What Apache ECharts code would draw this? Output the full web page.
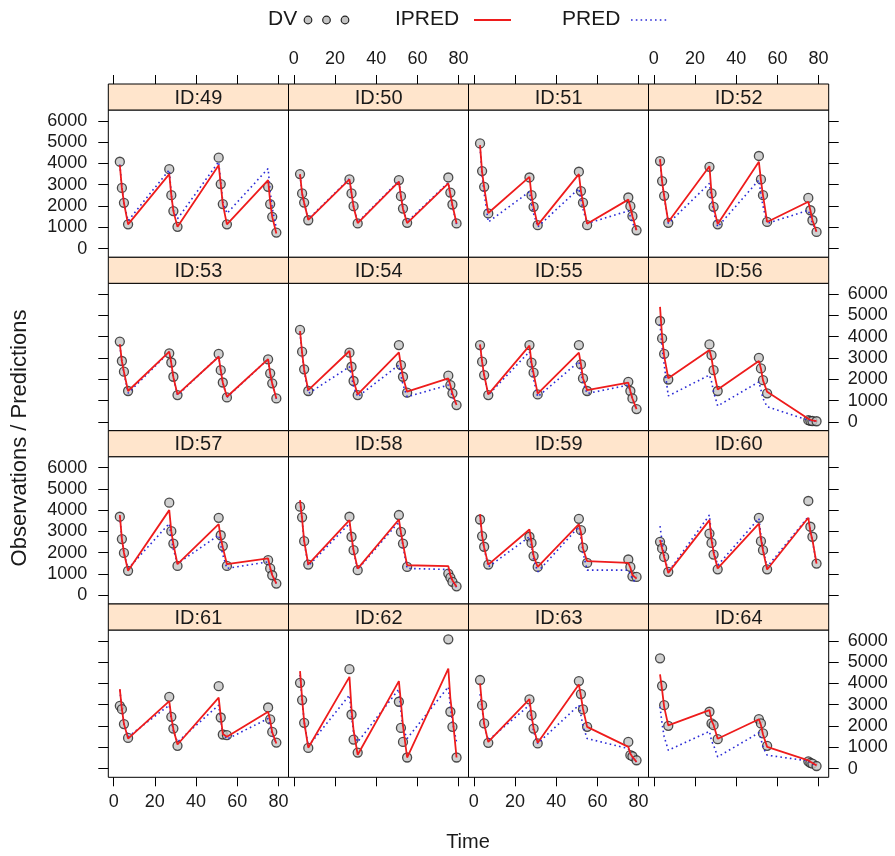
<!DOCTYPE html>
<html>
<head>
<meta charset="utf-8">
<script src="https://cdn.jsdelivr.net/npm/echarts@6/dist/echarts.min.js"></script>
<style>
  html, body { margin: 0; padding: 0; background: #ffffff; }
  #chart { width: 895px; height: 856px; }
</style>
</head>
<body>
<div id="chart"></div>
<script>
// Sampling times (h): four samples after each of four doses
const times = [3, 4, 5, 7, 27, 28, 29, 31, 51, 52, 53, 55, 75, 76, 77, 79];
const timeTicks = [0, 20, 40, 60, 80];
const concTicks = [0, 1000, 2000, 3000, 4000, 5000, 6000];

// Observed concentrations (DV), individual (IPRED) and population (PRED) predictions
const dv49    = [4080, 2850, 2150, 1140, 3730, 2510, 1760, 1020, 4270, 3030, 2090, 1140, 2900, 2090, 1490, 750];
const ipred49 = [3920, 2850, 2150, 1140, 3500, 2510, 1760, 1020, 3920, 3030, 2090, 1140, 3220, 2200, 1490, 710];
const pred49  = [3950, 2900, 2150, 1300, 3700, 2550, 1800, 1400, 4080, 3100, 2200, 1650, 3760, 2700, 1900, 950];

const dv50    = [3500, 2590, 2160, 1330, 3250, 2590, 1990, 1180, 3220, 2460, 1880, 1210, 3340, 2630, 2070, 1180];
const ipred50 = [3500, 2600, 2150, 1350, 3250, 2600, 1950, 1200, 3140, 2450, 1850, 1200, 3060, 2550, 2050, 1180];
const pred50  = [3450, 2580, 2120, 1380, 3280, 2580, 1950, 1230, 3180, 2470, 1880, 1250, 3100, 2500, 1980, 1150];

const dv51    = [4940, 3640, 2900, 1650, 3340, 2510, 1960, 1100, 3610, 2700, 2160, 1100, 2400, 1990, 1520, 860];
const ipred51 = [4860, 3600, 2880, 1670, 3370, 2500, 1950, 1100, 3500, 2700, 2150, 1170, 2300, 1950, 1520, 860];
const pred51  = [4780, 3400, 2600, 1250, 2670, 2100, 1650, 1020, 2820, 2300, 1850, 1180, 1770, 1500, 1200, 860];

const dv52    = [4110, 3170, 2480, 1210, 3840, 2590, 1960, 1140, 4350, 3250, 2510, 1250, 2380, 1800, 1330, 780];
const ipred52 = [4200, 3150, 2480, 1250, 3870, 2600, 1960, 1150, 4080, 3200, 2500, 1250, 2200, 1800, 1330, 790];
const pred52  = [4150, 3100, 2450, 1180, 3060, 2300, 1750, 1020, 3220, 2550, 2000, 1180, 1800, 1500, 1200, 780];

const dv53    = [3770, 2860, 2360, 1450, 3220, 2790, 2120, 1260, 3190, 2430, 1850, 1150, 2940, 2280, 1810, 1100];
const ipred53 = [3650, 2850, 2350, 1450, 3300, 2750, 2100, 1290, 3060, 2420, 1850, 1180, 2950, 2280, 1800, 1100];
const pred53  = [3600, 2800, 2300, 1350, 3280, 2700, 2080, 1250, 3080, 2400, 1830, 1150, 2950, 2250, 1780, 1080];

const dv54    = [4320, 3300, 2470, 1450, 3250, 2590, 1920, 1260, 3610, 2670, 2120, 1370, 2170, 1730, 1340, 790];
const ipred54 = [4270, 3250, 2450, 1490, 3330, 2600, 1920, 1290, 3260, 2650, 2100, 1420, 2040, 1720, 1330, 790];
const pred54  = [4200, 3200, 2400, 1330, 2590, 2150, 1650, 1180, 2670, 2200, 1750, 1180, 1730, 1500, 1200, 780];

const dv55    = [3610, 2830, 2200, 1260, 3610, 2780, 2310, 1290, 3610, 2700, 2040, 1450, 1880, 1450, 1100, 600];
const ipred55 = [3640, 2830, 2200, 1290, 3580, 2780, 2280, 1330, 3250, 2700, 2050, 1490, 1840, 1440, 1100, 600];
const pred55  = [3600, 2800, 2180, 1260, 3300, 2600, 2000, 1180, 2830, 2350, 1850, 1330, 1730, 1400, 1080, 590];

const dv56    = [4740, 3920, 3190, 1990, 3640, 3140, 2430, 1450, 3010, 2510, 1960, 1340, 80, 50, 40, 30];
const ipred56 = [5400, 4000, 3100, 2050, 3380, 3000, 2400, 1520, 2860, 2500, 1950, 1410, 150, 100, 70, 40];
const pred56  = [4600, 3500, 2700, 1220, 2200, 1900, 1400, 750, 1880, 1500, 1100, 710, 80, 60, 50, 30];

const dv57    = [3690, 2640, 1990, 1150, 4350, 3010, 2430, 1380, 3640, 2820, 2310, 1380, 1650, 1260, 940, 550];
const ipred57 = [3770, 2650, 2000, 1150, 4000, 3000, 2400, 1460, 3340, 2700, 2250, 1460, 1730, 1300, 950, 550];
const pred57  = [3700, 2620, 1980, 1250, 3370, 2700, 2150, 1490, 2820, 2350, 1900, 1260, 1570, 1250, 930, 550];

const dv58    = [4160, 3660, 2540, 1440, 3690, 2750, 2120, 1180, 3770, 2980, 2430, 1330, 1020, 830, 630, 420];
const ipred58 = [4470, 3600, 2550, 1450, 3530, 2750, 2100, 1250, 3560, 2950, 2400, 1410, 1370, 950, 700, 400];
const pred58  = [4400, 3550, 2500, 1380, 3370, 2700, 2050, 1210, 3450, 2850, 2300, 1260, 1210, 900, 650, 380];

const dv59    = [3560, 2780, 2280, 1440, 2750, 2460, 1840, 1330, 3590, 3060, 2240, 1520, 1680, 1330, 890, 860];
const ipred59 = [3810, 2800, 2250, 1440, 3090, 2500, 1850, 1330, 3340, 2950, 2200, 1600, 1520, 1300, 950, 780];
const pred59  = [3750, 2750, 2200, 1330, 2750, 2300, 1700, 1100, 3220, 2700, 2000, 1180, 1180, 1000, 750, 550];

const dv60    = [2510, 2200, 1800, 1100, 2900, 2460, 1910, 1220, 3640, 2540, 2120, 1220, 4430, 3220, 2750, 1490];
const ipred60 = [2600, 2200, 1800, 1050, 3530, 2600, 2000, 1260, 3370, 2650, 2100, 1210, 3640, 3000, 2600, 1490];
const pred60  = [3250, 2500, 1900, 1100, 3770, 2800, 2100, 1410, 3610, 2800, 2150, 1330, 3690, 3000, 2550, 1490];

const dv61    = [2950, 2790, 2090, 1440, 3370, 2430, 1880, 1070, 3870, 2400, 1600, 1570, 2870, 2310, 1720, 1220];
const ipred61 = [3730, 2800, 2100, 1410, 3170, 2400, 1850, 1130, 3330, 2450, 1620, 1490, 2670, 2250, 1700, 1180];
const pred61  = [3700, 2780, 2080, 1490, 2980, 2300, 1750, 1250, 2980, 2250, 1650, 1380, 2350, 2000, 1600, 1180];

const dv62    = [4030, 3220, 2150, 970, 4670, 2540, 1360, 750, 3140, 1910, 1250, 520, 6070, 2670, 1960, 520];
const ipred62 = [4580, 3300, 2200, 980, 4310, 2800, 1800, 650, 4110, 3100, 2000, 520, 4700, 3300, 2500, 520];
const pred62  = [4400, 3200, 2200, 1050, 3450, 2500, 1700, 1250, 3730, 2700, 1900, 1410, 3840, 2900, 2200, 1250];

const dv63    = [4160, 2980, 2120, 1210, 3250, 2510, 1880, 1180, 4110, 3500, 2780, 1960, 1250, 630, 580, 390];
const ipred63 = [4000, 2950, 2100, 1250, 3260, 2500, 1900, 1210, 3950, 3400, 2800, 1960, 1020, 700, 550, 310];
const pred63  = [3500, 2800, 2050, 1330, 2980, 2300, 1750, 1180, 2980, 2500, 2000, 1410, 940, 700, 500, 310];

const dv64    = [5180, 3890, 2980, 2010, 2670, 2120, 2040, 1380, 2320, 2120, 1650, 1070, 340, 270, 230, 120];
const ipred64 = [4420, 3700, 2900, 2030, 2750, 2250, 2050, 1400, 2320, 2050, 1600, 1020, 390, 320, 260, 150];
const pred64  = [2900, 2100, 1500, 860, 1750, 1300, 1100, 550, 1680, 1400, 1000, 630, 360, 280, 220, 150];

// Panels in reading order (left to right, top to bottom)
const panels = [
  [49, dv49, ipred49, pred49], [50, dv50, ipred50, pred50], [51, dv51, ipred51, pred51], [52, dv52, ipred52, pred52],
  [53, dv53, ipred53, pred53], [54, dv54, ipred54, pred54], [55, dv55, ipred55, pred55], [56, dv56, ipred56, pred56],
  [57, dv57, ipred57, pred57], [58, dv58, ipred58, pred58], [59, dv59, ipred59, pred59], [60, dv60, ipred60, pred60],
  [61, dv61, ipred61, pred61], [62, dv62, ipred62, pred62], [63, dv63, ipred63, pred63], [64, dv64, ipred64, pred64]
];

// Layout of the 4 x 4 trellis
const colLeft = [108.3, 288.5, 468.5, 648.5];
const panelW = 180.2;
const stripTop = [84, 257.3, 430.7, 604];
const stripH = 26;
const panelH = 147.3;
const xRange = [-2.6, 84.9];
const yRange = [-410, 6510];

const FONT = '"Liberation Sans", Arial, Helvetica, sans-serif';
const TEXT = '#1a1a1a';
const RED = '#ee1c1c';
const BLUE = '#2b2bd6';
const DOT_FILL = '#c4c4c4';
const DOT_EDGE = '#222222';

const pairs = arr => times.map((t, i) => [t, arr[i]]);
const plain = v => String(v);

const grids = [], xAxes = [], yAxes = [], series = [], graphics = [];

panels.forEach(([id, dv, ipred, pred], k) => {
  const r = Math.floor(k / 4), c = k % 4;
  const top = stripTop[r] + stripH;
  grids.push({
    left: colLeft[c], top: top, width: panelW, height: panelH,
    show: true, borderColor: '#000', borderWidth: 1, backgroundColor: '#fff',
    containLabel: false, outerBoundsMode: 'none'
  });

  const isTop = r === 0, isBottom = r === 3;
  const xLabelled = (isTop && c % 2 === 1) || (isBottom && c % 2 === 0);
  xAxes.push({
    type: 'value', gridIndex: k, min: xRange[0], max: xRange[1],
    position: isTop ? 'top' : 'bottom',
    offset: isTop ? stripH : 0,
    axisLine: { show: false, onZero: false }, splitLine: { show: false },
    axisTick: { show: isTop || isBottom, inside: false, length: 9, customValues: timeTicks,
                lineStyle: { color: '#000', width: 1 } },
    axisLabel: { show: xLabelled, customValues: timeTicks, margin: 16, fontSize: 18,
                 fontFamily: FONT, color: TEXT, formatter: plain }
  });

  const isLeft = c === 0, isRight = c === 3;
  const yLabelled = (isLeft && r % 2 === 0) || (isRight && r % 2 === 1);
  yAxes.push({
    type: 'value', gridIndex: k, min: yRange[0], max: yRange[1],
    position: isRight ? 'right' : 'left',
    axisLine: { show: false, onZero: false }, splitLine: { show: false },
    axisTick: { show: isLeft || isRight, inside: false, length: 10, customValues: concTicks,
                lineStyle: { color: '#000', width: 1 } },
    axisLabel: { show: yLabelled, customValues: concTicks, margin: isLeft ? 21 : 19, fontSize: 18,
                 fontFamily: FONT, color: TEXT, formatter: plain }
  });

  series.push({
    name: 'DV', type: 'scatter', xAxisIndex: k, yAxisIndex: k, data: pairs(dv),
    symbol: 'circle', symbolSize: 9, z: 2,
    itemStyle: { color: DOT_FILL, borderColor: DOT_EDGE, borderWidth: 1.3 }
  });
  series.push({
    name: 'PRED', type: 'line', xAxisIndex: k, yAxisIndex: k, data: pairs(pred),
    showSymbol: false, symbol: 'none', z: 3,
    lineStyle: { color: BLUE, width: 1.6, type: [1.6, 3.2] }
  });
  series.push({
    name: 'IPRED', type: 'line', xAxisIndex: k, yAxisIndex: k, data: pairs(ipred),
    showSymbol: false, symbol: 'none', z: 4,
    lineStyle: { color: RED, width: 1.8 }
  });

  // strip with subject label
  graphics.push({
    type: 'rect', z: 10,
    shape: { x: colLeft[c], y: stripTop[r], width: panelW, height: stripH },
    style: { fill: '#ffe5cc', stroke: '#000', lineWidth: 1 }
  });
  graphics.push({
    type: 'text', z: 11,
    x: colLeft[c] + panelW / 2, y: stripTop[r] + stripH / 2 + 1,
    style: { text: 'ID:' + id, font: '20px ' + FONT, fill: TEXT, align: 'center', verticalAlign: 'middle' }
  });
});

// Key above the panels
const keyY = 19;
graphics.push(
  { type: 'text', x: 268, y: keyY, style: { text: 'DV', font: '21px ' + FONT, fill: TEXT, verticalAlign: 'middle' } },
  { type: 'circle', shape: { cx: 308, cy: keyY + 1, r: 3.8 }, style: { fill: DOT_FILL, stroke: DOT_EDGE, lineWidth: 1.2 } },
  { type: 'circle', shape: { cx: 326.5, cy: keyY + 1, r: 3.8 }, style: { fill: DOT_FILL, stroke: DOT_EDGE, lineWidth: 1.2 } },
  { type: 'circle', shape: { cx: 345, cy: keyY + 1, r: 3.8 }, style: { fill: DOT_FILL, stroke: DOT_EDGE, lineWidth: 1.2 } },
  { type: 'text', x: 395, y: keyY, style: { text: 'IPRED', font: '21px ' + FONT, fill: TEXT, verticalAlign: 'middle' } },
  { type: 'line', shape: { x1: 474, y1: keyY + 1, x2: 511, y2: keyY + 1 }, style: { stroke: RED, lineWidth: 2 } },
  { type: 'text', x: 562, y: keyY, style: { text: 'PRED', font: '21px ' + FONT, fill: TEXT, verticalAlign: 'middle' } },
  { type: 'line', shape: { x1: 631, y1: keyY + 1, x2: 668, y2: keyY + 1 },
    style: { stroke: BLUE, lineWidth: 1.6, lineDash: [1.6, 3.2] } },
  // axis titles
  { type: 'text', x: 468, y: 842,
    style: { text: 'Time', font: '20px ' + FONT, fill: TEXT, align: 'center', verticalAlign: 'middle' } },
  { type: 'text', x: 20, y: 438, rotation: Math.PI / 2,
    style: { text: 'Observations / Predictions', font: '22px ' + FONT, fill: TEXT, align: 'center', verticalAlign: 'middle' } }
);

const chart = echarts.init(document.getElementById('chart'), null, { renderer: 'canvas' });
chart.setOption({
  animation: false,
  backgroundColor: '#ffffff',
  grid: grids,
  xAxis: xAxes,
  yAxis: yAxes,
  series: series,
  graphic: { elements: graphics }
});
</script>
</body>
</html>
